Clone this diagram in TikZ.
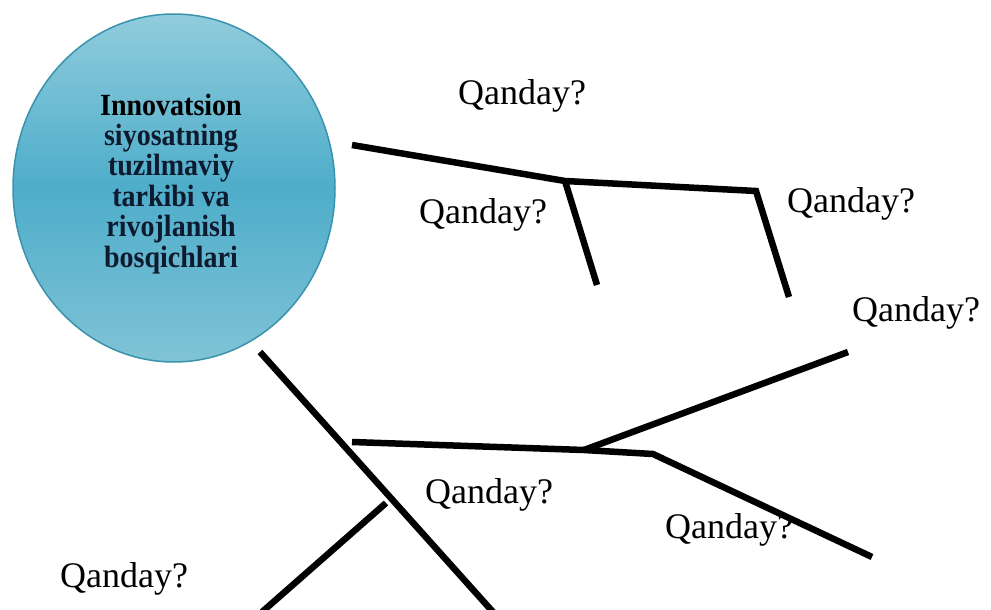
\documentclass[tikz,border=0pt]{standalone}
\usepackage{fontspec}
\setmainfont{Liberation Serif}
\usetikzlibrary{shapes.geometric}
\definecolor{elltop}{HTML}{90CCDC}
\definecolor{ellmid}{HTML}{4EADCA}
\definecolor{ellbot}{HTML}{80C3D6}
\definecolor{ellline}{HTML}{3A93AD}
\definecolor{elltext}{HTML}{0E1A2E}
\tikzset{
  branch/.style={line width=6.5pt, black, line join=miter, line cap=butt},
  qlabel/.style={anchor=base west, inner sep=0pt, font=\fontsize{36}{40}\selectfont},
}
\begin{document}
\begin{tikzpicture}[x=1pt,y=-1pt]
\useasboundingbox (0,0) rectangle (991,610);
\fill[white] (0,0) rectangle (991,610);
% central ellipse
\node[ellipse, draw=ellline, line width=1.5pt, minimum width=322pt, minimum height=348pt,
  top color=elltop, bottom color=ellbot, middle color=ellmid, inner sep=0pt] (c) at (174,188) {};
\node[align=center, inner sep=0pt, text=elltext] (ct) at (171,185)
  {\scalebox{1}[1.1]{\fontsize{28}{27.3}\selectfont\bfseries\begin{tabular}{@{}c@{}}\textcolor{black}{Innovatsion}\\siyosatning\\tuzilmaviy\\tarkibi va\\rivojlanish\\bosqichlari\end{tabular}}};
% coordinates
\coordinate (t0) at (352,145);
\coordinate (tj) at (565,181);
\coordinate (tc) at (756,191);
\coordinate (te) at (789,297);
\coordinate (ts) at (597,285);
\coordinate (d0) at (260,352);
\coordinate (d1) at (493,612);
\coordinate (h0) at (352,442);
\coordinate (hj) at (584,450);
\coordinate (hc) at (653,454);
\coordinate (he) at (872,557);
\coordinate (hu) at (848,352);
\coordinate (s0) at (386,503);
\coordinate (s1) at (262,612);
% branches
\draw[branch] (t0) -- (tj) -- (tc) -- (te);
\draw[branch] (tj) -- (ts);
\draw[branch] (d0) -- (d1);
\draw[branch] (h0) -- (hj) -- (hc) -- (he);
\draw[branch] (hj) -- (hu);
\draw[branch] (s0) -- (s1);
% labels
\node[qlabel] (q1) at (458,104) {Qanday?};
\node[qlabel] (q2) at (419,223) {Qanday?};
\node[qlabel] (q3) at (787,212) {Qanday?};
\node[qlabel] (q4) at (852,321) {Qanday?};
\node[qlabel] (q5) at (425,503) {Qanday?};
\node[qlabel] (q6) at (665,538) {Qanday?};
\node[qlabel] (q7) at (60,587) {Qanday?};
\end{tikzpicture}
\end{document}
